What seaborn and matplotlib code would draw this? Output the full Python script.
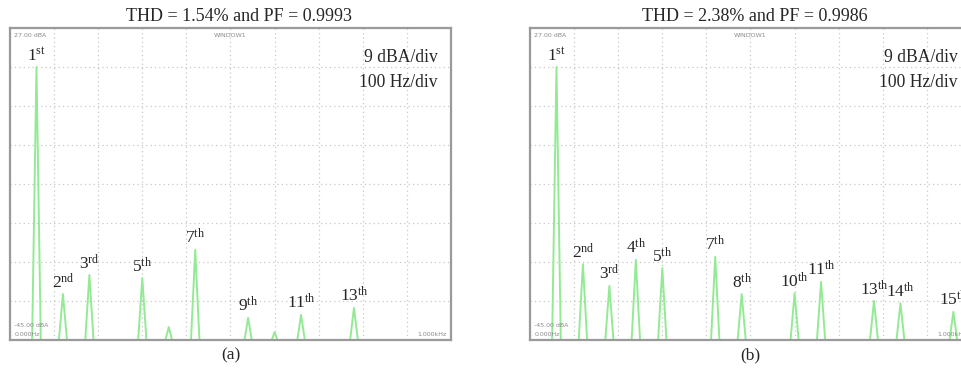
import re
import numpy as np
import pandas as pd
import matplotlib
matplotlib.use("Agg")
import matplotlib.pyplot as plt
import seaborn as sns

# ---- data ----
left_freqs = [60, 120, 180, 300, 360, 420, 540, 600, 660, 780]
left_levels = [18.0, -34.4, -30.0, -30.7, -42.0, -24.2, -39.9, -43.2, -39.2, -37.6]
left_labels = ["1st", "2nd", "3rd", "5th", "", "7th", "9th", "", "11th", "13th"]
left_title = "THD = 1.54% and PF = 0.9993"

right_freqs = [60, 120, 180, 240, 300, 420, 480, 600, 660, 780, 840, 960]
right_levels = [18.0, -27.5, -32.5, -26.5, -28.4, -25.8, -34.4, -34.2, -31.6, -36.0, -36.5, -38.5]
right_labels = ["1st", "2nd", "3rd", "4th", "5th", "7th", "8th", "10th", "11th", "13th", "14th", "15th"]
right_title = "THD = 2.38% and PF = 0.9986"

y_top, y_bottom = 27.0, -45.0
x_span = 1000.0
panel_names = ["(a)", "(b)"]

sns.set_style("white")
plt.rcParams["font.family"] = ["Liberation Serif", "DejaVu Serif"]
plt.rcParams["mathtext.fontset"] = "custom"
plt.rcParams["mathtext.rm"] = "Liberation Serif"
plt.rcParams["mathtext.it"] = "Liberation Serif"

fig = plt.figure(figsize=(9.62, 3.78), dpi=100)
W, H = 962, 378
ax_l = fig.add_axes([10 / W, 38 / H, 441 / W, 312 / H])
ax_r = fig.add_axes([530 / W, 38 / H, 441 / W, 312 / H])

GREEN = "#94ea94"
FRAME = "#9a9a9a"


def spectrum(freqs, levels, hw=10.0, floor=-46.0):
    xs, ys = [0.0], [floor]
    for f, l in zip(freqs, levels):
        xs += [f - hw, f, f + hw]
        ys += [floor, l, floor]
    xs.append(x_span)
    ys.append(floor)
    return pd.DataFrame({"f": xs, "dB": ys})


def draw(ax, freqs, levels, labels, title, name, title_x):
    df = spectrum(freqs, levels)
    sns.lineplot(data=df, x="f", y="dB", ax=ax, color=GREEN, lw=1.4,
                 sort=False, estimator=None)
    ax.set_xlim(0, x_span)
    ax.set_ylim(y_bottom, y_top)
    ax.set_xticks(np.arange(0, x_span + 1, 100))
    ax.set_yticks(np.arange(y_bottom, y_top + 0.1, 9))
    ax.tick_params(length=0, labelbottom=False, labelleft=False)
    ax.grid(True, ls=(0, (1, 2.5)), color="#c8c8c8", lw=0.9)
    for s in ax.spines.values():
        s.set_color(FRAME)
        s.set_linewidth(1.6)
    ax.set_xlabel(name, fontsize=12.5, labelpad=5)
    ax.set_ylabel("")
    ax.set_title(title, fontsize=13, pad=5, x=title_x)
    for f, l, lab in zip(freqs, levels, labels):
        if not lab:
            continue
        m = re.match(r"(\d+)(\D+)", lab)
        txt = r"$\mathrm{%s^{%s}}$" % (m.group(1), m.group(2))
        ax.annotate(txt, (f, l), xytext=(0, 1.5), textcoords="offset points",
                    ha="center", va="bottom", fontsize=12.5, clip_on=False)
    ax.text(0.97, 0.905, "9 dBA/div", transform=ax.transAxes, ha="right",
            va="center", fontsize=12.7)
    ax.text(0.97, 0.825, "100 Hz/div", transform=ax.transAxes, ha="right",
            va="center", fontsize=12.7)
    small = dict(transform=ax.transAxes, fontsize=4.5, color="#8a8a8a",
                 family="DejaVu Sans")
    ax.text(0.01, 0.985, "27.00 dBA", ha="left", va="top", **small)
    ax.text(0.5, 0.985, "WINDOW1", ha="center", va="top", **small)
    ax.text(0.01, 0.04, "-45.00 dBA", ha="left", va="bottom", **small)
    ax.text(0.01, 0.01, "0.000Hz", ha="left", va="bottom", **small)
    ax.text(0.99, 0.01, "1.000kHz", ha="right", va="bottom", **small)


draw(ax_l, left_freqs, left_levels, left_labels, left_title, panel_names[0], 0.52)
draw(ax_r, right_freqs, right_levels, right_labels, right_title, panel_names[1], 0.51)

fig.savefig("out.png", dpi=100)
